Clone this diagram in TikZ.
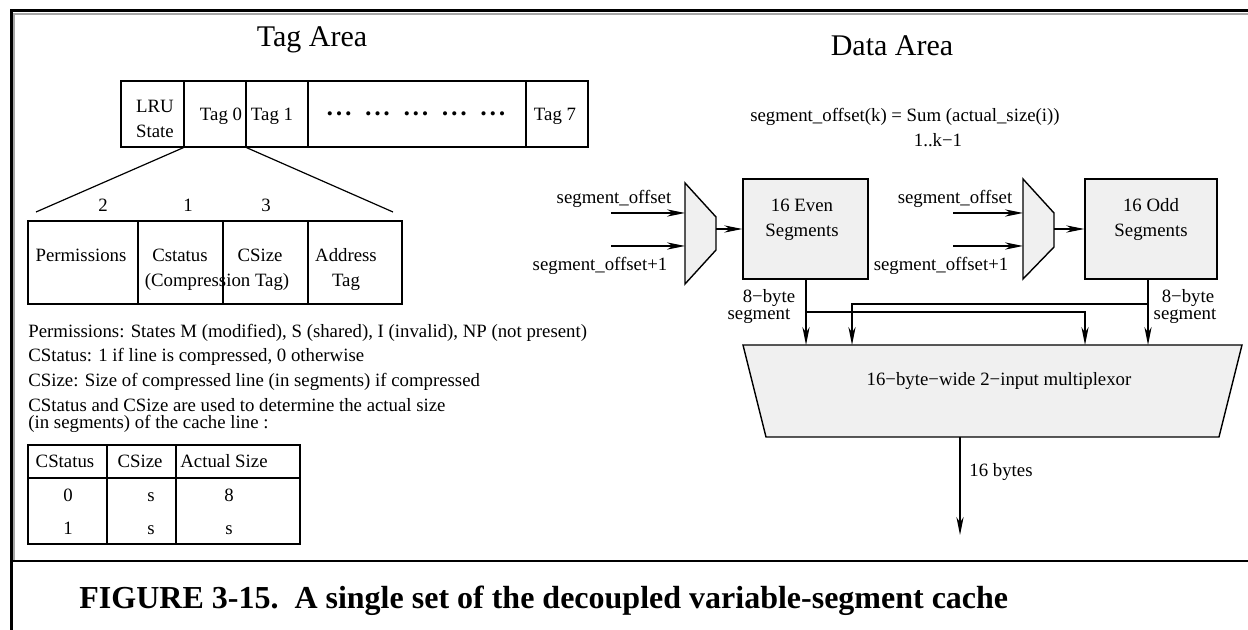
\documentclass[tikz,border=0pt]{standalone}
\usepackage{fontspec}
\setmainfont{Liberation Serif}
\usetikzlibrary{arrows.meta}

\newcommand\figtxt{\fontsize{9.4}{11}\selectfont}
\newcommand\figtitle{\fontsize{15}{18}\selectfont}
\newcommand\figcap{\fontsize{16}{19}\selectfont\bfseries}
\newcommand\dotgroup{\textbullet\kern1.6pt\textbullet\kern1.6pt\textbullet}
\definecolor{panelgrey}{gray}{0.94}

\begin{document}
\begin{tikzpicture}[x=0.5pt,y=-0.5pt,
  lbl/.style={font=\figtxt, inner sep=0pt, anchor=base},
  lbll/.style={lbl, anchor=base west},
  cell/.style={draw, line width=0.7pt, inner sep=0pt},
  greybox/.style={cell, fill=panelgrey},
  muxst/.style={draw, line width=0.7pt, fill=panelgrey, line join=miter},
  fan/.style={line width=0.6pt},
  wire/.style={line width=0.55pt},
  arr/.style={wire, -{Stealth[length=9pt,width=3.6pt,inset=2.8pt]}}]

\useasboundingbox (0,0) rectangle (1248,630);

% outer frame and caption separator
\draw[line width=1.5pt] (11,630) -- (11,11) -- (1248,11);
\draw[line width=0.7pt, draw=black!35] (14,561) -- (14,14) -- (1248,14);
\draw[line width=1pt] (11,561) -- (1248,561);

% titles
\node[lbl, font=\figtitle] (tagtitle) at (312,47) {Tag Area};
\node[lbl, font=\figtitle] (datatitle) at (892,56) {Data Area};

% ---------- tag area: one set of tags ----------
\node[cell, minimum width=31.5pt, minimum height=33pt] (lru)  at (152.5,114) {};
\node[cell, minimum width=31pt,   minimum height=33pt] (tag0) at (215,114) {};
\node[cell, minimum width=31pt,   minimum height=33pt] (tag1) at (277,114) {};
\node[cell, minimum width=109pt,  minimum height=33pt] (tagx) at (417,114) {};
\node[cell, minimum width=31pt,   minimum height=33pt] (tag7) at (557,114) {};

\node[lbl] (lruA) at (155,113) {LRU};
\node[lbl] (lruB) at (155,138) {State};
\node[lbl] (t0) at (221,121) {Tag 0};
\node[lbl] (t1) at (272,121) {Tag 1};
\node[lbl] (t7) at (555,121) {Tag 7};
\node[lbl, font=\fontsize{8.6}{10}\selectfont] (dots) at (416,120)
  {\dotgroup\hspace{7pt}\dotgroup\hspace{7pt}\dotgroup\hspace{7pt}\dotgroup\hspace{7pt}\dotgroup};

% expansion of Tag 0
\coordinate (fanL) at (36,212);
\coordinate (fanR) at (393,212);
\draw[fan] (tag0.south west) -- (fanL);
\draw[fan] (tag0.south east) -- (fanR);

\node[lbl] (n2) at (103,212) {2};
\node[lbl] (n1) at (188,212) {1};
\node[lbl] (n3) at (266,212) {3};

\node[cell, minimum width=55pt,   minimum height=41.5pt] (fperm) at (83,262.5) {};
\node[cell, minimum width=42.5pt, minimum height=41.5pt] (fstat) at (180.5,262.5) {};
\node[cell, minimum width=42.5pt, minimum height=41.5pt] (fsize) at (265.5,262.5) {};
\node[cell, minimum width=47pt,   minimum height=41.5pt] (faddr) at (355,262.5) {};

\node[lbl] (lperm) at (81,262) {Permissions};
\node[lbl] (lstatA) at (180,262) {Cstatus};
\node[lbl] (lstatB) at (217,287) {(Compression Tag)};
\node[lbl] (lsize) at (260,262) {CSize};
\node[lbl] (laddrA) at (346,262) {Address};
\node[lbl] (laddrB) at (346,287) {Tag};

% field descriptions
\node[lbll] (d1) at (28,338) {Permissions: States M (modified), S (shared), I (invalid), NP (not present)};
\node[lbll] (d2) at (28,362) {CStatus: 1 if line is compressed, 0 otherwise};
\node[lbll] (d3) at (28,387) {CSize: Size of compressed line (in segments) if compressed};
\node[lbll] (d4) at (28,412) {CStatus and CSize are used to determine the actual size};
\node[lbll] (d5) at (28,429) {(in segments) of the cache line :};

% actual size table
\node[cell, minimum width=39.5pt, minimum height=16.5pt] (hA) at (67.5,461.5) {};
\node[cell, minimum width=34.5pt, minimum height=16.5pt] (hB) at (141.5,461.5) {};
\node[cell, minimum width=62pt,   minimum height=16.5pt] (hC) at (238,461.5) {};
\node[cell, minimum width=39.5pt, minimum height=33pt] (bA) at (67.5,511) {};
\node[cell, minimum width=34.5pt, minimum height=33pt] (bB) at (141.5,511) {};
\node[cell, minimum width=62pt,   minimum height=33pt] (bC) at (238,511) {};

\node[lbl] (hAt) at (65,468) {CStatus};
\node[lbl] (hBt) at (140,468) {CSize};
\node[lbl] (hCt) at (224,468) {Actual Size};
\node[lbl] (r1a) at (68,502) {0};
\node[lbl] (r1b) at (151,502) {s};
\node[lbl] (r1c) at (229,502) {8};
\node[lbl] (r2a) at (68,535) {1};
\node[lbl] (r2b) at (151,535) {s};
\node[lbl] (r2c) at (229,535) {s};

% ---------- data area ----------
\node[lbl] (fsum) at (905,122) {segment\_offset(k) = Sum (actual\_size(i))};
\node[lbl] (frange) at (938,147) {1..k−1};

% even-side selector
\coordinate (mlA) at (685,183);
\coordinate (mlB) at (716,217);
\coordinate (mlC) at (716,250);
\coordinate (mlD) at (685,284);
\draw[muxst] (mlA) -- (mlB) -- (mlC) -- (mlD) -- cycle;
\coordinate (mlOut) at (716,229);
\coordinate (inL1s) at (611,213);
\coordinate (inL1e) at (685,213);
\coordinate (inL2s) at (611,246);
\coordinate (inL2e) at (685,246);
\draw[arr] (inL1s) -- (inL1e);
\draw[arr] (inL2s) -- (inL2e);
\node[lbl] (sL1) at (614,204) {segment\_offset};
\node[lbl] (sL2) at (600,271) {segment\_offset+1};

\node[greybox, minimum width=62.5pt, minimum height=50pt] (even) at (805.5,229) {};
\node[lbl] (evA) at (802,212) {16 Even};
\node[lbl] (evB) at (802,237) {Segments};
\draw[arr] (mlOut) -- (even.west);

% odd-side selector
\coordinate (mrA) at (1023,179);
\coordinate (mrB) at (1054,213);
\coordinate (mrC) at (1054,247);
\coordinate (mrD) at (1023,279);
\draw[muxst] (mrA) -- (mrB) -- (mrC) -- (mrD) -- cycle;
\coordinate (mrOut) at (1054,229);
\coordinate (inR1s) at (953,213);
\coordinate (inR1e) at (1023,213);
\coordinate (inR2s) at (953,246);
\coordinate (inR2e) at (1023,246);
\draw[arr] (inR1s) -- (inR1e);
\draw[arr] (inR2s) -- (inR2e);
\node[lbl] (sR1) at (955,204) {segment\_offset};
\node[lbl] (sR2) at (941,271) {segment\_offset+1};

\node[greybox, minimum width=66pt, minimum height=50pt] (odd) at (1151,229) {};
\node[lbl] (odA) at (1151,212) {16 Odd};
\node[lbl] (odB) at (1151,237) {Segments};
\draw[arr] (mrOut) -- (odd.west);

% output multiplexor
\coordinate (bmTL) at (743,345);
\coordinate (bmTR) at (1242,345);
\coordinate (bmBR) at (1219,437);
\coordinate (bmBL) at (766,437);
\draw[muxst] (bmTL) -- (bmTR) -- (bmBR) -- (bmBL) -- cycle;
\node[lbl] (bmtxt) at (999,386) {16−byte−wide 2−input multiplexor};

% 8-byte segment paths
\coordinate (evTap) at (806,312);
\coordinate (odTap) at (1148,304);
\coordinate (evIn) at (806,345);
\coordinate (evX) at (852,345);
\coordinate (odX) at (1085,345);
\coordinate (odIn) at (1148,345);
\draw[arr] (even.south -| evIn) -- (evIn);
\draw[arr] (evTap) -| (odX);
\draw[arr] (odd.south -| odIn) -- (odIn);
\draw[arr] (odTap) -| (evX);

\node[lbl] (e8a) at (769,303) {8−byte};
\node[lbl] (e8b) at (759,320) {segment};
\node[lbl] (o8a) at (1188,303) {8−byte};
\node[lbl] (o8b) at (1185,320) {segment};

% 16-byte result
\coordinate (bmOut) at (960,437);
\coordinate (resEnd) at (960,535);
\draw[arr] (bmOut) -- (resEnd);
\node[lbll] (res) at (969,477) {16 bytes};

% caption
\node[lbll, font=\figcap] (cap) at (79,608)
  {FIGURE 3-15.\hspace{0.5em}A single set of the decoupled variable-segment cache};

\end{tikzpicture}
\end{document}
